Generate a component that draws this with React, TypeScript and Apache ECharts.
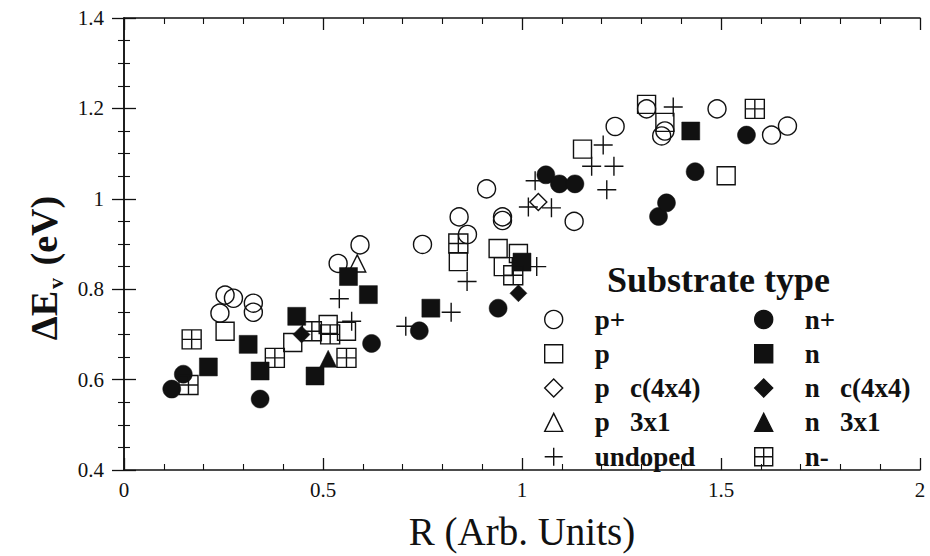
import React, { useEffect, useRef } from "react";
import * as echarts from "echarts";

const INK = "#111";
const SERIF = "'Liberation Serif', 'Times New Roman', serif";

// [R, ΔEv]
const pPlus = [
  [0.241, 0.747], [0.254, 0.787], [0.275, 0.78], [0.325, 0.769], [0.325, 0.749],
  [0.538, 0.857], [0.593, 0.898], [0.75, 0.899], [0.842, 0.96], [0.863, 0.921],
  [0.911, 1.022], [0.951, 0.96], [0.951, 0.952], [1.131, 0.95], [1.234, 1.16],
  [1.313, 1.199], [1.351, 1.139], [1.359, 1.15], [1.49, 1.199], [1.627, 1.141],
  [1.667, 1.161],
];
const pData = [
  [0.254, 0.707], [0.424, 0.682], [0.513, 0.722], [0.559, 0.707], [0.84, 0.861],
  [0.94, 0.89], [0.991, 0.879], [0.953, 0.85], [1.152, 1.11], [1.313, 1.209],
  [1.359, 1.169], [1.513, 1.051],
];
const pC4x4 = [[1.041, 0.993]];
const p3x1 = [[0.586, 0.857]];
const undoped = [
  [0.541, 0.779], [0.572, 0.729], [0.708, 0.718], [0.822, 0.749], [0.862, 0.817],
  [1.037, 0.85], [1.016, 0.982], [1.074, 0.98], [1.033, 1.04], [1.175, 1.072],
  [1.231, 1.072], [1.204, 1.119], [1.213, 1.02], [1.38, 1.203],
];
const nPlus = [
  [0.12, 0.579], [0.149, 0.612], [0.342, 0.557], [0.622, 0.68], [0.742, 0.708],
  [0.94, 0.758], [1.06, 1.053], [1.094, 1.033], [1.133, 1.033], [1.343, 0.961],
  [1.363, 0.991], [1.435, 1.06], [1.564, 1.141],
];
const nData = [
  [0.212, 0.628], [0.312, 0.678], [0.342, 0.619], [0.434, 0.74], [0.48, 0.608],
  [0.564, 0.828], [0.614, 0.788], [0.771, 0.758], [1.0, 0.86], [1.424, 1.15],
];
const nC4x4 = [[0.446, 0.7], [0.991, 0.791]];
const n3x1 = [[0.513, 0.646]];
const nMinus = [
  [0.162, 0.588], [0.17, 0.689], [0.379, 0.648], [0.472, 0.707], [0.518, 0.7],
  [0.559, 0.648], [0.84, 0.901], [0.978, 0.831], [1.585, 1.199],
];

const leftNames = ["p+", "p", "p c(4x4)", "p 3x1", "undoped"];
const rightNames = ["n+", "n", "n c(4x4)", "n 3x1", "n-"];

const PLUS = "path://M10,0 L10,20 M0,10 L20,10";
const BOXCROSS = "path://M0,0 L20,0 L20,20 L0,20 Z M10,0 L10,20 M0,10 L20,10";

function mk(name: string, data: number[][], symbol: string, size: number, filled: boolean) {
  return {
    name,
    type: "scatter",
    data,
    symbol,
    symbolSize: size,
    itemStyle: {
      color: filled ? INK : "rgba(0,0,0,0)",
      borderColor: INK,
      borderWidth: filled ? 0.5 : 1.4,
      opacity: 1,
    },
    emphasis: { disabled: true },
    xAxisIndex: 0,
    yAxisIndex: 0,
  };
}

export default function App() {
  const ref = useRef<HTMLDivElement>(null);
  useEffect(() => {
    if (!ref.current) return;
    const chart = echarts.init(ref.current, undefined, { renderer: "svg" });
    const tick = {
      axisLine: { show: true, lineStyle: { color: INK, width: 1.5 } },
      axisTick: { show: true, inside: true, length: 12, lineStyle: { color: INK, width: 1.3 } },
      minorTick: { show: true, length: 6, lineStyle: { color: INK, width: 1.1 } },
      splitLine: { show: false },
    };
    const legendBase = {
      orient: "vertical",
      itemWidth: 18,
      itemHeight: 18,
      itemGap: 7.3,
      padding: 5,
      selectedMode: false,
      itemStyle: { borderWidth: 1.4 },
      formatter: (n: string) => n.replace(" ", "\u00a0\u00a0\u00a0"),
      textStyle: {
        fontFamily: SERIF,
        fontSize: 27,
        fontWeight: "bold",
        color: INK,
        lineHeight: 26,
        padding: [0, 0, 0, 27],
      },
    };
    chart.setOption({
      animation: false,
      backgroundColor: "#fff",
      grid: { left: 124, top: 18, width: 796, height: 455, containLabel: false },
      xAxis: [
        {
          type: "value", min: 0, max: 2, interval: 0.5, position: "bottom",
          ...tick,
          minorTick: { ...tick.minorTick, splitNumber: 5 },
          axisLabel: { fontFamily: SERIF, fontSize: 21, color: INK, margin: 9 },
          name: "R (Arb. Units)",
          nameLocation: "middle",
          nameGap: 42,
          nameTextStyle: { fontFamily: SERIF, fontSize: 39, color: INK },
        },
        {
          type: "value", min: 0, max: 2, interval: 0.5, position: "top",
          ...tick,
          minorTick: { ...tick.minorTick, splitNumber: 5 },
          axisLabel: { show: false },
        },
      ],
      yAxis: [
        {
          type: "value", min: 0.4, max: 1.4, interval: 0.2, position: "left",
          ...tick,
          minorTick: { ...tick.minorTick, splitNumber: 4 },
          axisLabel: { fontFamily: SERIF, fontSize: 21, color: INK, margin: 20 },
        },
        {
          type: "value", min: 0.4, max: 1.4, interval: 0.2, position: "right",
          ...tick,
          minorTick: { ...tick.minorTick, splitNumber: 4 },
          axisLabel: { show: false },
        },
      ],
      legend: [
        { ...legendBase, left: 539, top: 301, data: leftNames },
        { ...legendBase, left: 749, top: 301, data: rightNames },
      ],
      graphic: [
        {
          type: "text",
          left: 607,
          top: 262,
          style: {
            text: "Substrate type",
            font: `bold 36px ${SERIF}`,
            fill: INK,
          },
        },
        {
          type: "text",
          x: 44,
          y: 268,
          rotation: Math.PI / 2,
          style: {
            text: "{a|ΔE}{s|v}{a| (eV)}",
            align: "center",
            verticalAlign: "middle",
            fill: INK,
            rich: {
              a: { fontFamily: SERIF, fontSize: 38, fontWeight: "bold", fill: INK },
              s: { fontFamily: SERIF, fontSize: 22, fontWeight: "bold", fill: INK, padding: [22, 3, 0, 2] },
            },
          },
        },
      ],
      series: [
        mk("p+", pPlus, "circle", 18, false),
        mk("p", pData, "rect", 18, false),
        mk("p c(4x4)", pC4x4, "diamond", 17, false),
        mk("p 3x1", p3x1, "triangle", 17, false),
        mk("undoped", undoped, PLUS, 19, false),
        mk("n+", nPlus, "circle", 18, true),
        mk("n", nData, "rect", 18, true),
        mk("n c(4x4)", nC4x4, "diamond", 17, true),
        mk("n 3x1", n3x1, "triangle", 17, true),
        mk("n-", nMinus, BOXCROSS, 19, false),
      ],
    });
    return () => chart.dispose();
  }, []);
  return (
    <div
      ref={ref}
      style={{ position: "fixed", left: 0, top: 0, width: 930, height: 556, background: "#fff" }}
    />
  );
}
